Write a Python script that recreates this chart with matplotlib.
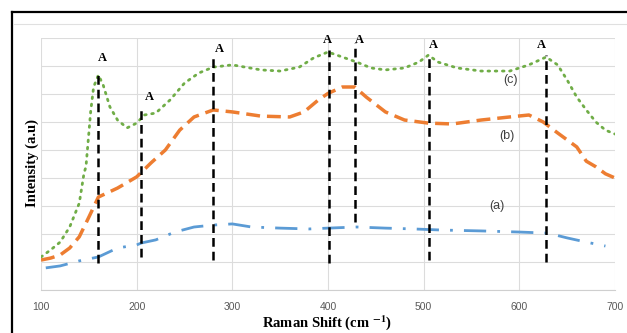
import numpy as np
import matplotlib
matplotlib.use('Agg')
import matplotlib.pyplot as plt
from matplotlib.lines import Line2D

plt.rcParams['font.family'] = ['Liberation Sans', 'DejaVu Sans']
plt.rcParams['mathtext.fontset'] = 'stix'

# (a) blue dash-dot
xa = [105, 120, 140, 160, 180, 200, 205, 220, 240, 260, 280, 300, 320, 350, 380,
      400, 430, 460, 490, 520, 560, 600, 630, 650, 670, 690]
ya = [0.79, 0.86, 1.04, 1.18, 1.50, 1.61, 1.68, 1.79, 2.07, 2.25, 2.32, 2.36, 2.25,
      2.21, 2.18, 2.21, 2.25, 2.21, 2.18, 2.14, 2.11, 2.07, 2.03, 1.86, 1.71, 1.57]

# (b) orange dashed
xb = [100, 110, 120, 130, 140, 150, 160, 180, 200, 215, 230, 245, 260, 280, 300,
      330, 360, 375, 390, 400, 415, 428, 440, 460, 480, 505, 530, 560, 590, 610,
      625, 640, 660, 670, 680, 690, 700]
yb = [1.07, 1.14, 1.25, 1.50, 1.90, 2.60, 3.32, 3.64, 4.04, 4.54, 5.00, 5.71, 6.18,
      6.43, 6.36, 6.21, 6.18, 6.36, 6.79, 7.02, 7.25, 7.25, 6.89, 6.36, 6.07, 5.96,
      5.93, 6.07, 6.18, 6.25, 6.00, 5.61, 5.11, 4.60, 4.40, 4.15, 4.00]

# (c) green dotted
xc = [100, 110, 120, 130, 140, 145, 147, 152, 155, 160, 165, 172, 180, 190, 200,
      208, 220, 235, 250, 265, 280, 300, 330, 350, 370, 385, 400, 415, 430, 445,
      460, 480, 495, 505, 515, 535, 560, 590, 610, 628, 640, 650, 660, 670, 680,
      690, 700]
yc = [1.18, 1.43, 1.71, 2.25, 3.10, 4.18, 4.40, 6.40, 7.25, 7.68, 7.32, 6.54, 6.07,
      5.79, 5.96, 6.25, 6.32, 6.79, 7.39, 7.75, 7.96, 8.04, 7.86, 7.82, 7.96, 8.29,
      8.50, 8.32, 8.14, 7.93, 7.86, 7.93, 8.14, 8.39, 8.14, 7.93, 7.82, 7.82, 8.04,
      8.32, 8.04, 7.50, 6.89, 6.43, 6.00, 5.71, 5.57]

# peak markers "A"
peak_x = [160, 205, 280, 401, 428, 506, 628]
peak_lo = [0.96, 1.18, 1.07, 0.96, 2.43, 1.07, 1.00]
peak_hi = [7.79, 6.54, 8.32, 8.57, 8.82, 8.39, 8.39]
label_x = [164, 213, 286, 399, 433, 510, 623]
label_y = [8.29, 6.89, 8.60, 8.93, 8.93, 8.75, 8.75]

xticks = [100, 200, 300, 400, 500, 600, 700]

fig = plt.figure(figsize=(6.27, 3.33), dpi=100)
ax = fig.add_axes([41/627, 1-290/333, (615-41)/627, (290-38)/333])

ax.plot(xa, ya, color='#5b9bd5', lw=2, linestyle=(0, (8, 4, 1, 4)))
ax.plot(xb, yb, color='#ed7d31', lw=2.5, linestyle=(0, (4, 2)))
ax.plot(xc, yc, color='#70ad47', lw=2, linestyle=(0, (0.6, 2)),
        dash_capstyle='round')

ax.vlines(peak_x, peak_lo, peak_hi, colors='black', lw=1.8,
          linestyles=(0, (3.5, 2)))
for x, y in zip(label_x, label_y):
    ax.text(x, y, 'A', ha='center', va='center', fontsize=9,
            family='Liberation Serif', fontweight='bold')

ax.text(591, 7.5, '(c)', ha='center', va='center', fontsize=9, color='#404040')
ax.text(587, 5.5, '(b)', ha='center', va='center', fontsize=9, color='#404040')
ax.text(577, 3.0, '(a)', ha='center', va='center', fontsize=9, color='#404040')

ax.set_xlim(100, 700)
ax.set_ylim(0, 9)
ax.set_xticks(xticks)
ax.set_yticks(np.arange(0, 10, 1))
ax.set_yticklabels([])
ax.tick_params(length=0, pad=9, labelsize=7.5, labelcolor='#595959')
ax.grid(True, color='#dcdcdc', lw=0.8)
for s in ['top', 'right', 'left']:
    ax.spines[s].set_visible(False)
ax.spines['bottom'].set_color('#cfcfcf')

fig.text(327/627, 1/333, r'Raman Shift (cm $^{\mathbf{-1}}$)', ha='center',
         va='bottom', family='Liberation Serif', fontweight='bold', fontsize=10.5)
fig.text(32/627, 1-163/333, 'Intensity (a.u)', ha='center', va='center',
         rotation=90, family='Liberation Serif', fontweight='bold', fontsize=10.5)

# outer frame lines
fig.add_artist(Line2D([12/627, 1], [1-12/333, 1-12/333], color='black', lw=1.6))
fig.add_artist(Line2D([12/627, 12/627], [0, 1-12/333], color='black', lw=1.6))
fig.add_artist(Line2D([14/627, 1], [1-24/333, 1-24/333], color='#e0e0e0', lw=0.8))

fig.savefig('out.png', dpi=100)
